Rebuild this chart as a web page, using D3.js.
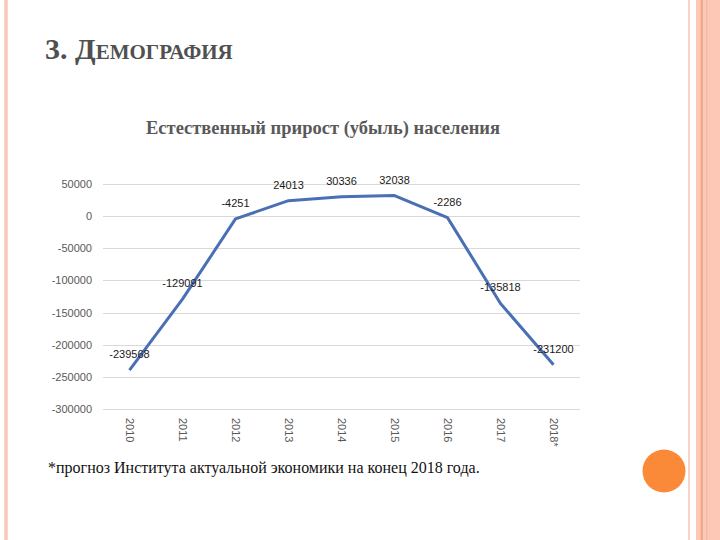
<!DOCTYPE html>
<html><head><meta charset="utf-8">
<script src="https://cdn.jsdelivr.net/npm/d3@7"></script>
<style>html,body{margin:0;padding:0;background:#fff;}svg{display:block;}</style>
</head><body>
<script>
const categories = ["2010","2011","2012","2013","2014","2015","2016","2017","2018*"];
const values = [-239568,-129091,-4251,24013,30336,32038,-2286,-135818,-231200];
const yTicks = [50000,0,-50000,-100000,-150000,-200000,-250000,-300000];
const slideTitleA = "3. Д";
const slideTitleB = "ЕМОГРАФИЯ";
const chartTitle = "Естественный прирост (убыль) населения";
const footnote = "*прогноз Института актуальной экономики на конец 2018 года.";

const W = 720, H = 540;
const svg = d3.select("body").append("svg").attr("width", W).attr("height", H);

// slide decorations
svg.append("rect").attr("x",0).attr("y",0).attr("width",W).attr("height",H).attr("fill","#fff");
svg.append("rect").attr("x",4).attr("y",0).attr("width",4).attr("height",H).attr("fill","#fbd3c7");
svg.append("rect").attr("x",5.5).attr("y",0).attr("width",1).attr("height",H).attr("fill","#f6bfae");
svg.append("rect").attr("x",688).attr("y",0).attr("width",2).attr("height",H).attr("fill","#fad3c8");
svg.append("rect").attr("x",696).attr("y",0).attr("width",24).attr("height",H).attr("fill","#fdc8b5");
svg.append("rect").attr("x",700.5).attr("y",0).attr("width",2.5).attr("height",H).attr("fill","#f0aa8e");
svg.append("rect").attr("x",706).attr("y",0).attr("width",1.5).attr("height",H).attr("fill","#f6b9a2");
svg.append("circle").attr("cx",664).attr("cy",471).attr("r",21.5).attr("fill","#fa8a37");

// slide title
const st = svg.append("text").attr("x",45).attr("y",59)
  .attr("font-family","'Liberation Serif', 'DejaVu Serif', serif").attr("font-weight","bold")
  .attr("fill","#505050");
st.append("tspan").attr("font-size","30px").text(slideTitleA);
st.append("tspan").attr("font-size","21px").text(slideTitleB);

// chart title
svg.append("text").attr("x",323).attr("y",134).attr("text-anchor","middle")
  .attr("font-family","'Liberation Serif', serif").attr("font-weight","bold")
  .attr("font-size","18.5px").attr("fill","#595959").text(chartTitle);

// scales
const x = d3.scaleBand().domain(categories).range([103,580]).padding(0);
const y = d3.scaleLinear().domain([-300000,50000]).range([409,184]);

// grid
svg.append("g").selectAll("line").data(yTicks).join("line")
  .attr("x1",103).attr("x2",580)
  .attr("y1",d=>Math.round(y(d))+0.5).attr("y2",d=>Math.round(y(d))+0.5)
  .attr("stroke","#d9d9d9").attr("stroke-width",1);

// y axis
const yAxis = svg.append("g").attr("transform","translate(92,0)")
  .call(d3.axisLeft(y).tickValues(yTicks).tickSize(0).tickPadding(0).tickFormat(d=>String(d)));
yAxis.select(".domain").remove();
yAxis.selectAll("text").attr("font-family","'Liberation Sans', Arial, sans-serif")
  .attr("font-size","11px").attr("fill","#595959");

// x axis
const xAxis = svg.append("g").attr("transform","translate(0,418)")
  .call(d3.axisBottom(x).tickSize(0).tickPadding(0));
xAxis.select(".domain").remove();
xAxis.selectAll("text").attr("font-family","'Liberation Sans', Arial, sans-serif")
  .attr("font-size","11px").attr("fill","#595959")
  .attr("transform","rotate(90)").attr("text-anchor","start")
  .attr("x",0).attr("y",0).attr("dy","0.35em").attr("dx",0);

// line
const line = d3.line().x((d,i)=>x(categories[i])+x.bandwidth()/2).y(d=>y(d));
svg.append("path").datum(values).attr("d",line)
  .attr("fill","none").attr("stroke","#4a6fb5").attr("stroke-width",3)
  .attr("stroke-linejoin","round");

// data labels
svg.append("g").selectAll("text").data(values).join("text")
  .attr("x",(d,i)=>x(categories[i])+x.bandwidth()/2)
  .attr("y",d=>y(d)-12)
  .attr("text-anchor","middle")
  .attr("font-family","'Liberation Sans', Arial, sans-serif")
  .attr("font-size","11px").attr("fill","#1a1a1a")
  .text(d=>String(d));

// footnote
svg.append("text").attr("x",48).attr("y",473)
  .attr("font-family","'Liberation Serif', serif").attr("font-size","16px")
  .attr("fill","#111").text(footnote);
</script>
</body></html>
